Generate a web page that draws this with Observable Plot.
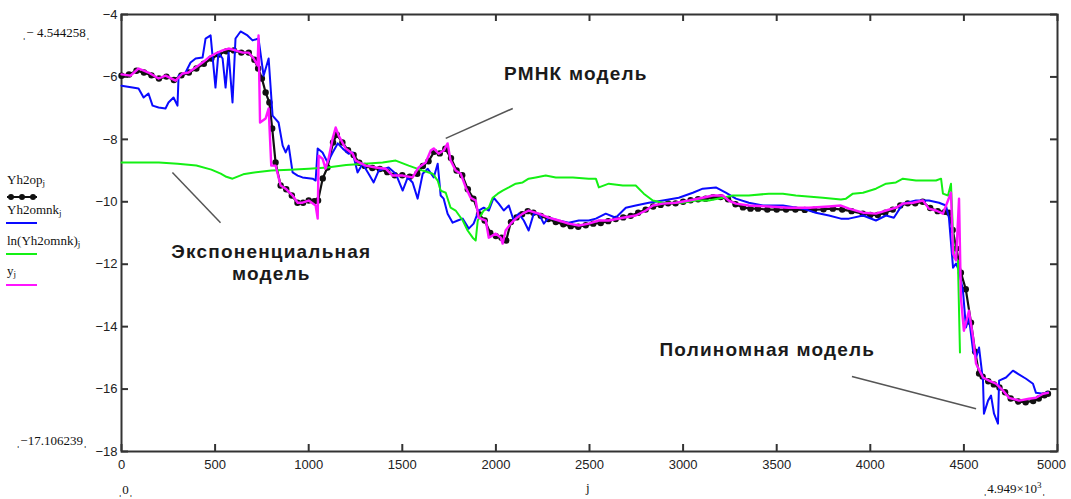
<!DOCTYPE html>
<html><head><meta charset="utf-8">
<script src="https://cdn.jsdelivr.net/npm/d3@7"></script>
<script src="https://cdn.jsdelivr.net/npm/@observablehq/plot@0.6"></script>
<style>
body{margin:0;background:#fff;}
#wrap{position:relative;width:1071px;height:499px;overflow:hidden;background:#fff;}
#chart{position:absolute;left:0;top:0;}
.lab{position:absolute;white-space:nowrap;font-family:"Liberation Serif","DejaVu Serif",serif;font-size:13px;color:#111;line-height:1;}
.lab sub{font-size:9px;vertical-align:-2px;line-height:0;}
.sw{position:absolute;height:2px;}
.ann text{letter-spacing:1.2px;}
</style></head><body>
<div id="wrap"><div id="chart"></div></div>
<script>
// ---- tick values ----
const xTicks = [0,500,1000,1500,2000,2500,3000,3500,4000,4500,5000];
const yTicks = [-18,-16,-14,-12,-10,-8,-6,-4];

// ---- series: [j, value] ----
const yh2op = [[0,-5.96],[40,-5.92],[80,-5.80],[120,-5.86],[160,-5.95],[200,-6.05],[240,-5.99],[280,-6.10],[320,-5.95],[360,-5.86],[400,-5.73],[440,-5.58],[480,-5.41],[520,-5.28],[560,-5.18],[600,-5.15],[640,-5.22],[680,-5.22],[710,-5.45],[730,-5.73],[750,-6.05],[770,-6.50],[790,-6.82],[805,-7.65],[823,-8.74],[850,-9.48],[880,-9.60],[910,-9.80],[940,-10.03],[970,-10.03],[1000,-9.96],[1030,-9.98],[1050,-9.96],[1075,-9.25],[1100,-8.90],[1130,-8.10],[1150,-7.85],[1180,-8.10],[1210,-8.35],[1240,-8.50],[1270,-8.75],[1300,-8.85],[1340,-8.92],[1380,-8.95],[1420,-9.05],[1460,-9.15],[1500,-9.15],[1540,-9.20],[1580,-9.10],[1610,-8.85],[1640,-8.70],[1670,-8.40],[1700,-8.45],[1730,-8.30],[1760,-8.60],[1790,-9.00],[1820,-9.15],[1850,-9.60],[1880,-9.90],[1910,-10.40],[1940,-10.60],[1970,-11.00],[2000,-11.10],[2030,-11.15],[2055,-11.24],[2080,-10.65],[2110,-10.50],[2140,-10.40],[2170,-10.30],[2200,-10.35],[2240,-10.45],[2280,-10.55],[2320,-10.65],[2360,-10.72],[2400,-10.78],[2440,-10.80],[2480,-10.75],[2520,-10.70],[2560,-10.68],[2600,-10.62],[2640,-10.55],[2680,-10.50],[2720,-10.45],[2760,-10.35],[2800,-10.25],[2840,-10.15],[2880,-10.10],[2920,-10.05],[2960,-10.05],[3000,-10.00],[3040,-9.95],[3080,-9.92],[3120,-9.90],[3160,-9.85],[3200,-9.85],[3240,-9.92],[3280,-10.08],[3320,-10.18],[3360,-10.22],[3400,-10.22],[3450,-10.25],[3500,-10.25],[3550,-10.25],[3600,-10.25],[3650,-10.26],[3700,-10.25],[3750,-10.24],[3800,-10.22],[3850,-10.25],[3900,-10.30],[3960,-10.38],[4000,-10.42],[4040,-10.42],[4080,-10.35],[4120,-10.25],[4160,-10.12],[4200,-10.05],[4240,-10.05],[4280,-10.00],[4320,-10.20],[4360,-10.30],[4400,-10.32],[4420,-10.35],[4440,-10.90],[4460,-11.50],[4484,-12.27],[4510,-12.80],[4538,-13.87],[4560,-14.80],[4581,-15.50],[4600,-15.60],[4630,-15.75],[4660,-15.85],[4690,-15.95],[4720,-16.10],[4750,-16.30],[4790,-16.40],[4830,-16.42],[4870,-16.38],[4900,-16.30],[4930,-16.20],[4949,-16.15]];

const yh2omnk = [[0,-6.28],[59,-6.34],[91,-6.37],[118,-6.66],[144,-6.53],[166,-6.92],[198,-6.98],[235,-7.01],[251,-6.82],[278,-6.66],[299,-6.92],[305,-5.96],[342,-5.86],[369,-5.54],[396,-5.41],[433,-5.38],[449,-4.77],[476,-4.67],[502,-6.34],[518,-5.22],[540,-5.41],[556,-6.34],[572,-5.22],[593,-6.82],[609,-4.77],[636,-4.544258],[673,-4.67],[700,-4.83],[732,-4.77],[759,-5.96],[786,-5.41],[807,-7.24],[839,-7.46],[861,-8.20],[877,-8.42],[893,-8.20],[914,-9.06],[941,-9.16],[967,-9.22],[1021,-9.26],[1037,-9.32],[1048,-8.29],[1074,-8.42],[1101,-8.74],[1128,-8.42],[1155,-8.13],[1181,-8.29],[1213,-8.46],[1235,-8.42],[1261,-9.06],[1288,-8.78],[1320,-9.10],[1347,-9.38],[1374,-9.00],[1427,-8.90],[1465,-9.10],[1502,-9.64],[1529,-9.22],[1555,-9.38],[1582,-9.90],[1609,-9.10],[1636,-8.94],[1668,-9.22],[1689,-8.78],[1705,-9.80],[1721,-9.90],[1742,-10.38],[1769,-10.67],[1796,-10.60],[1823,-10.54],[1855,-10.86],[1881,-10.70],[1908,-10.28],[1935,-10.19],[1962,-10.28],[1988,-9.87],[2015,-10.06],[2042,-10.28],[2069,-10.12],[2095,-10.60],[2122,-10.38],[2149,-10.60],[2175,-10.92],[2202,-10.38],[2229,-10.38],[2256,-10.70],[2282,-10.51],[2336,-10.60],[2389,-10.67],[2443,-10.60],[2496,-10.60],[2534,-10.54],[2587,-10.38],[2640,-10.51],[2694,-10.19],[2747,-10.12],[2817,-10.03],[2892,-9.96],[2977,-9.87],[3052,-9.71],[3105,-9.58],[3175,-9.54],[3228,-9.71],[3282,-9.90],[3351,-10.03],[3426,-10.12],[3533,-10.12],[3640,-10.22],[3709,-10.35],[3779,-10.44],[3843,-10.54],[3886,-10.54],[3961,-10.44],[4030,-10.60],[4084,-10.44],[4126,-10.51],[4174,-10.06],[4244,-9.96],[4313,-9.96],[4367,-10.03],[4404,-10.12],[4420,-10.51],[4442,-12.11],[4458,-11.98],[4474,-12.21],[4495,-12.85],[4511,-14.03],[4527,-13.71],[4549,-14.77],[4565,-14.99],[4581,-14.67],[4602,-15.73],[4607,-16.79],[4629,-16.37],[4645,-16.21],[4661,-16.79],[4682,-17.106239],[4688,-15.73],[4725,-15.63],[4762,-15.41],[4789,-15.51],[4832,-15.67],[4869,-15.83],[4885,-16.12],[4923,-16.15],[4949,-16.10]];

const lnYh2omnk = [[0,-8.74],[200,-8.74],[300,-8.78],[400,-8.84],[480,-8.97],[530,-9.10],[560,-9.20],[593,-9.26],[650,-9.12],[700,-9.07],[800,-9.00],[900,-8.97],[1000,-8.94],[1100,-8.90],[1200,-8.82],[1300,-8.78],[1395,-8.74],[1465,-8.68],[1534,-8.84],[1609,-9.00],[1662,-9.10],[1689,-9.32],[1705,-9.64],[1732,-9.71],[1758,-10.19],[1785,-10.28],[1823,-10.60],[1849,-10.92],[1876,-11.15],[1892,-11.24],[1903,-10.60],[1935,-10.28],[1962,-10.19],[1983,-9.87],[2010,-9.74],[2036,-9.64],[2069,-9.54],[2106,-9.42],[2143,-9.38],[2175,-9.26],[2213,-9.22],[2266,-9.16],[2320,-9.22],[2411,-9.22],[2496,-9.26],[2534,-9.26],[2550,-9.54],[2603,-9.42],[2678,-9.48],[2747,-9.48],[2790,-9.74],[2838,-9.96],[2892,-10.03],[2999,-10.03],[3068,-9.96],[3137,-9.96],[3212,-9.87],[3266,-9.80],[3351,-9.80],[3458,-9.74],[3533,-9.74],[3602,-9.80],[3747,-9.87],[3843,-9.93],[3870,-9.90],[3907,-9.74],[3961,-9.71],[4030,-9.58],[4084,-9.42],[4137,-9.38],[4174,-9.26],[4244,-9.32],[4297,-9.32],[4351,-9.32],[4378,-9.26],[4388,-9.74],[4415,-9.80],[4431,-9.42],[4447,-11.79],[4468,-11.88],[4479,-14.83]];

const yj = [[0,-5.92],[48,-5.96],[91,-5.73],[144,-5.86],[198,-6.05],[235,-5.96],[289,-6.12],[326,-5.89],[358,-5.86],[396,-5.70],[433,-5.54],[465,-5.38],[502,-5.25],[540,-5.15],[572,-5.09],[609,-5.15],[647,-5.22],[679,-5.22],[706,-5.41],[727,-5.63],[732,-4.67],[740,-7.46],[770,-7.33],[786,-7.01],[800,-8.84],[823,-8.84],[850,-9.48],[877,-9.58],[914,-9.80],[941,-10.03],[967,-10.03],[1000,-9.96],[1037,-10.12],[1048,-10.54],[1053,-8.52],[1074,-8.62],[1090,-8.94],[1106,-8.62],[1128,-7.97],[1144,-7.62],[1160,-7.88],[1197,-8.29],[1235,-8.46],[1251,-8.68],[1304,-8.84],[1358,-8.90],[1411,-8.94],[1448,-9.16],[1502,-9.16],[1555,-9.22],[1587,-8.90],[1625,-8.74],[1652,-8.36],[1668,-8.29],[1694,-8.46],[1721,-8.36],[1742,-8.13],[1758,-8.68],[1785,-9.00],[1812,-9.10],[1839,-9.54],[1865,-9.87],[1892,-9.96],[1908,-10.51],[1946,-10.60],[1962,-11.15],[1999,-11.02],[2026,-11.15],[2036,-11.34],[2052,-10.92],[2079,-10.70],[2106,-10.54],[2143,-10.38],[2175,-10.28],[2229,-10.38],[2282,-10.51],[2336,-10.60],[2389,-10.70],[2443,-10.76],[2496,-10.70],[2550,-10.60],[2603,-10.60],[2678,-10.51],[2747,-10.44],[2801,-10.28],[2838,-10.12],[2892,-10.06],[2961,-10.03],[3031,-9.96],[3105,-9.87],[3159,-9.80],[3212,-9.80],[3244,-9.96],[3282,-10.06],[3351,-10.12],[3458,-10.15],[3565,-10.19],[3672,-10.19],[3779,-10.15],[3843,-10.12],[3886,-10.22],[3961,-10.35],[4030,-10.38],[4084,-10.28],[4137,-10.19],[4174,-10.06],[4228,-10.03],[4281,-9.96],[4313,-10.22],[4351,-10.28],[4388,-10.38],[4415,-9.96],[4431,-9.71],[4442,-11.66],[4458,-11.88],[4474,-9.90],[4484,-13.07],[4500,-14.13],[4527,-13.49],[4549,-14.35],[4565,-15.19],[4602,-15.63],[4634,-15.73],[4672,-15.83],[4709,-16.05],[4741,-16.28],[4794,-16.37],[4848,-16.31],[4885,-16.28],[4923,-16.15],[4949,-16.12]];

// ---- annotations (label centre and pointer ends, in data units) ----
const annLabels = [
  {text:"РМНК модель", j:2427, v:-5.86},
  {text:"Экспоненциальная\nмодель", j:800, v:-11.92},
  {text:"Полиномная модель", j:3450, v:-14.71}
];
const annPointers = [
  {j1:1732, v1:-7.97, j2:2090, v2:-7.01},
  {j1:272, v1:-9.06, j2:529, v2:-10.67},
  {j1:3902, v1:-15.60, j2:4565, v2:-16.63}
];

const obj = a => a.map(([j, v]) => ({j, v}));
const black = obj(yh2op), blue = obj(yh2omnk), green = obj(lnYh2omnk), mag = obj(yj);
const plotH = 499 - 14 - 48, plotW = 1071 - 121 - 14, tk = 7;

const chart = Plot.plot({
  width: 1071, height: 499,
  marginLeft: 121, marginRight: 14, marginTop: 14, marginBottom: 48,
  x: {domain: [0, 5000]},
  y: {domain: [-18, -4]},
  style: {fontFamily: "'Liberation Sans', Arial, sans-serif", fontSize: "13px", color: "#222", background: "transparent"},
  marks: [
    Plot.axisX(xTicks.slice(0, -1), {anchor: "bottom", tickSize: 0, tickPadding: 8, label: null, tickFormat: d => String(d)}),
    Plot.axisX(xTicks.slice(-1), {anchor: "bottom", tickSize: 0, tickPadding: 8, label: null, tickFormat: d => String(d), dx: -6}),
    Plot.axisY(yTicks, {anchor: "left", tickSize: 0, tickPadding: 4, label: null, tickFormat: d => "\u2212" + Math.abs(d)}),
    // inward ticks on all four sides
    Plot.tickX(xTicks, {x: d => d, insetTop: plotH - tk, stroke: "#333", strokeWidth: 2}),
    Plot.tickX(xTicks, {x: d => d, insetBottom: plotH - tk, stroke: "#333", strokeWidth: 2}),
    Plot.tickY(yTicks, {y: d => d, insetRight: plotW - tk, stroke: "#333", strokeWidth: 2}),
    Plot.tickY(yTicks, {y: d => d, insetLeft: plotW - tk, stroke: "#333", strokeWidth: 2}),
    Plot.frame({stroke: "#333", strokeWidth: 2}),
    Plot.link(annPointers, {x1: "j1", y1: "v1", x2: "j2", y2: "v2", stroke: "#555", strokeWidth: 1.5}),
    Plot.line(black, {x: "j", y: "v", stroke: "#111", strokeWidth: 2.2}),
    Plot.dot(black, {x: "j", y: "v", r: 3.2, fill: "#111", stroke: "none"}),
    Plot.line(blue, {x: "j", y: "v", stroke: "#0a0aff", strokeWidth: 2}),
    Plot.line(green, {x: "j", y: "v", stroke: "#14f014", strokeWidth: 2}),
    Plot.line(mag, {x: "j", y: "v", stroke: "#ff14ff", strokeWidth: 2.4}),
    Plot.text(annLabels, {x: "j", y: "v", text: "text", fontSize: 19, fontWeight: "bold", fill: "#1a1a1a", lineHeight: 1.16, className: "ann"})
  ]
});
document.getElementById("chart").appendChild(chart);

// ---- overlays: legend and range labels ----
const wrap = document.getElementById("wrap");
function lab(html, left, top, extra) {
  const d = document.createElement("div");
  d.className = "lab"; d.innerHTML = html;
  d.style.left = left + "px"; d.style.top = top + "px";
  if (extra) Object.assign(d.style, extra);
  wrap.appendChild(d); return d;
}
function sw(color, left, top, w) {
  const d = document.createElement("div");
  d.className = "sw"; d.style.background = color;
  d.style.left = left + "px"; d.style.top = top + "px"; d.style.width = w + "px";
  wrap.appendChild(d);
}
lab("Yh2op<sub>j</sub>", 7, 173);
const bd = document.createElement("div");
bd.style.cssText = "position:absolute;left:5px;top:188px;";
bd.innerHTML = '<svg width="34" height="10"><line x1="2" y1="5" x2="32" y2="5" stroke="#111" stroke-width="2"/><circle cx="6" cy="5" r="3" fill="#111"/><circle cx="17" cy="5" r="3" fill="#111"/><circle cx="28" cy="5" r="3" fill="#111"/></svg>';
wrap.appendChild(bd);
lab("Yh2omnk<sub>j</sub>", 7, 203);
sw("#0a0aff", 6, 222, 31);
lab("ln(Yh2omnk)<sub>j</sub>", 7, 234);
sw("#14f014", 6, 253, 31);
lab("y<sub>j</sub>", 7, 264);
sw("#ff14ff", 6, 284, 31);

const vmax = d3.max(yh2omnk, d => d[1]), vmin = d3.min(yh2omnk, d => d[1]);
const jmin = d3.min(yh2op, d => d[0]), jmax = d3.max(yh2op, d => d[0]);
const f6 = v => "\u2212" + Math.abs(v).toFixed(6);
lab("ˌ" + f6(vmax).replace("\u2212", "\u2212 ") + "ˌ", 22, 26);
lab("ˌ" + f6(vmin) + "ˌ", 16, 434);
lab("ˌ" + jmin + "ˌ", 118, 483);
lab("j", 586, 481, {fontSize: "13px"});
lab("ˌ" + (jmax / 1000).toFixed(3) + "×10<sup style='font-size:9px;vertical-align:5px;line-height:0'>3</sup>ˌ", 983, 482);
</script>
</body></html>
